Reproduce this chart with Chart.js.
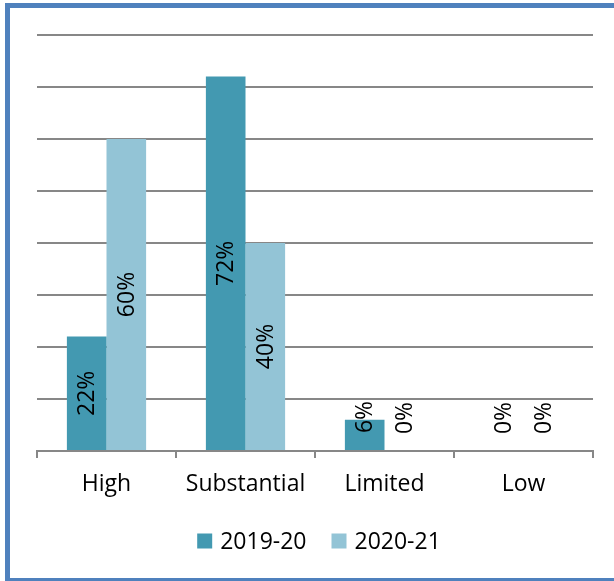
<!DOCTYPE html>
<html>
<head>
<meta charset="utf-8">
<script src="https://cdn.jsdelivr.net/npm/chart.js@4/dist/chart.umd.min.js"></script>
<style>
  html, body { margin: 0; padding: 0; background: #ffffff; }
  #wrap { width: 614px; height: 581px; position: relative; }
</style>
</head>
<body>
<div id="wrap"><canvas id="c" width="614" height="581"></canvas></div>
<script>
// Assurance ratings by year (percent of reports)
const categories = ['High', 'Substantial', 'Limited', 'Low'];
const series2019 = [22, 72, 6, 0];
const series2020 = [60, 40, 0, 0];
const seriesNames = ['2019-20', '2020-21'];
const yTicks = [0, 10, 20, 30, 40, 50, 60, 70, 80];

const DARK = '#4399B1';
const LIGHT = '#93C4D6';
const GRID = '#878787';
const FRAME = '#4F81BD';
const FONT = '"Open Sans", "Noto Sans", sans-serif';
const FONT_SIZE = 23;

// Blue frame round the whole figure
const framePlugin = {
  id: 'frame',
  beforeDraw(chart) {
    const ctx = chart.ctx;
    ctx.save();
    ctx.fillStyle = '#ffffff';
    ctx.fillRect(0, 0, chart.width, chart.height);
    ctx.fillStyle = FRAME;
    ctx.fillRect(5, 3, 5, chart.height - 3);
    ctx.fillRect(5, 3, chart.width - 5, 5);
    ctx.fillRect(5, chart.height - 3, chart.width - 5, 3);
    ctx.restore();
  }
};

// Rotated value labels centred in each bar
const valueLabels = {
  id: 'valueLabels',
  afterDatasetsDraw(chart) {
    const ctx = chart.ctx;
    ctx.save();
    ctx.font = FONT_SIZE + 'px ' + FONT;
    ctx.fillStyle = '#000000';
    ctx.textAlign = 'center';
    ctx.textBaseline = 'middle';
    chart.data.datasets.forEach((ds, di) => {
      const meta = chart.getDatasetMeta(di);
      meta.data.forEach((bar, i) => {
        const mid = (bar.y + bar.base) / 2;
        const y = Math.min(mid, bar.base - 33);
        ctx.save();
        ctx.translate(bar.x, y);
        ctx.rotate(-Math.PI / 2);
        ctx.fillText(ds.data[i] + '%', 0, 1);
        ctx.restore();
      });
    });
    ctx.restore();
  }
};

// Legend row under the axis labels
const legendRow = {
  id: 'legendRow',
  afterDraw(chart) {
    const ctx = chart.ctx;
    ctx.save();
    ctx.font = FONT_SIZE + 'px ' + FONT;
    ctx.textBaseline = 'middle';
    const box = 15, gapText = 8, gapItem = 25;
    const items = chart.data.datasets.map(d => ({ label: d.label, color: d.backgroundColor, w: ctx.measureText(d.label).width }));
    let total = 0;
    items.forEach((it, k) => { total += box + gapText + it.w + (k ? gapItem : 0); });
    const area = chart.chartArea;
    let x = (area.left + area.right) / 2 + 4 - total / 2;
    const cy = 541;
    items.forEach((it) => {
      ctx.fillStyle = it.color;
      ctx.fillRect(x, cy - box / 2, box, box);
      ctx.fillStyle = '#000000';
      ctx.fillText(it.label, x + box + gapText, cy + 1);
      x += box + gapText + it.w + gapItem;
    });
    ctx.restore();
  }
};

new Chart(document.getElementById('c'), {
  type: 'bar',
  data: {
    labels: categories,
    datasets: [
      { label: seriesNames[0], data: series2019, backgroundColor: DARK, borderWidth: 0 },
      { label: seriesNames[1], data: series2020, backgroundColor: LIGHT, borderWidth: 0 }
    ]
  },
  options: {
    responsive: false,
    animation: false,
    devicePixelRatio: 1,
    categoryPercentage: 0.57,
    barPercentage: 1.0,
    layout: { padding: { left: 37, right: 21, top: 35, bottom: 0 } },
    plugins: { legend: { display: false }, tooltip: { enabled: false } },
    scales: {
      x: {
        afterFit(s) { s.height = 130; },
        grid: { display: true, drawOnChartArea: false, drawTicks: true, tickLength: 7, color: GRID, lineWidth: 2, offset: true },
        border: { display: true, color: GRID, width: 2 },
        ticks: { color: '#000000', font: { family: FONT, size: FONT_SIZE }, padding: 13 }
      },
      y: {
        min: 0, max: 80,
        afterFit(s) { s.width = 0; },
        afterBuildTicks(s) { s.ticks = yTicks.map(v => ({ value: v })); },
        ticks: { display: false },
        grid: { color: GRID, lineWidth: 2, drawTicks: false },
        border: { display: false }
      }
    }
  },
  plugins: [framePlugin, valueLabels, legendRow]
});
</script>
</body>
</html>
